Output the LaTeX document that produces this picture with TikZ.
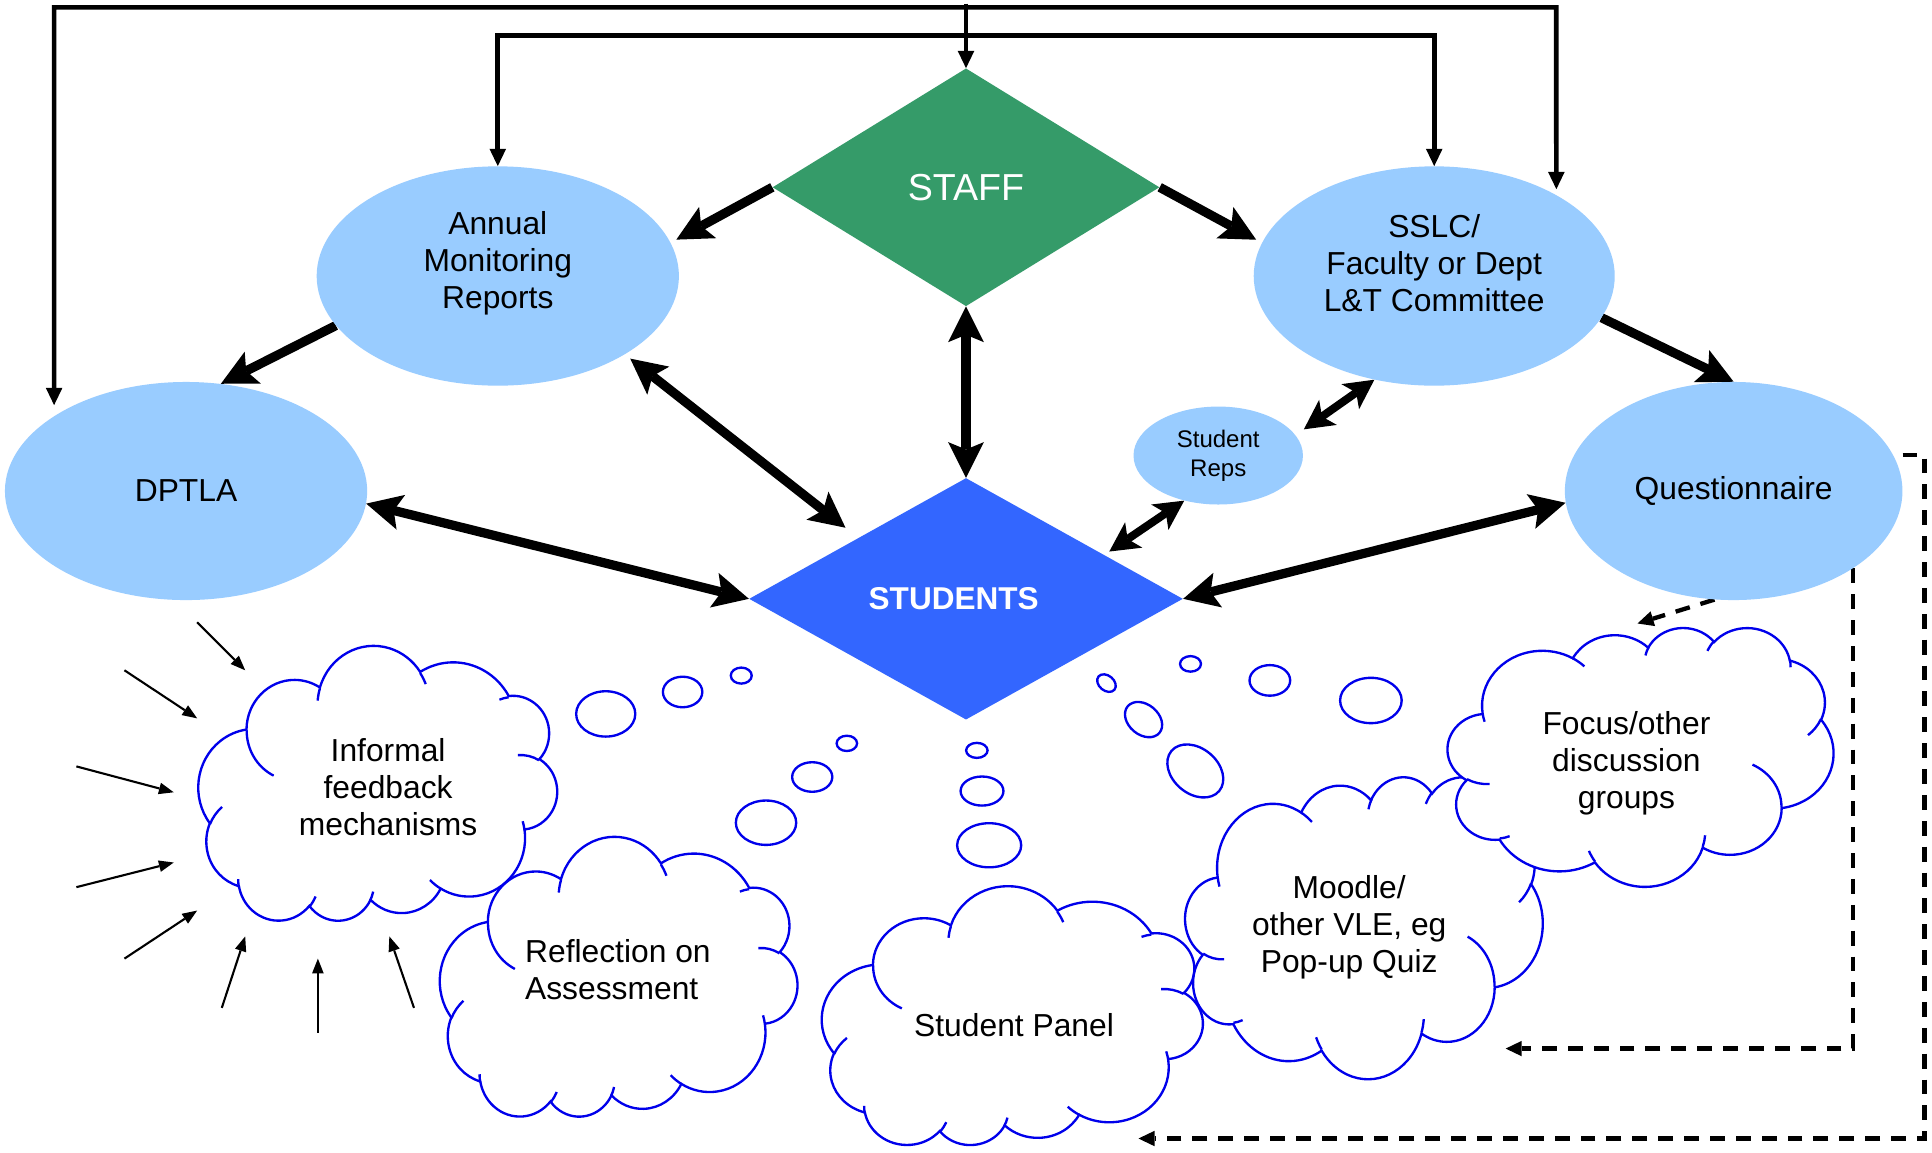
\documentclass[tikz,border=0pt]{standalone}
\usepackage{fontspec}
\setmainfont{Liberation Sans}
\usetikzlibrary{shapes.geometric,arrows.meta,calc,backgrounds}

\definecolor{skyfill}{RGB}{153,204,255}
\definecolor{staffgreen}{RGB}{53,155,105}
\definecolor{studentblue}{RGB}{51,102,255}
\definecolor{cloudblue}{RGB}{0,0,235}

% Cloud outline inside a 432 x 432 box (y pointing down): eleven puffs
\newcommand\cloudoutline{%
  (39.00,143.70)
  arc[start angle=-187.75, delta angle=128.11, x radius=67.53, y radius=91.90]
  arc[start angle=-152.02, delta angle=106.58, x radius=53.33, y radius=72.67]
  arc[start angle=-153.48, delta angle=116.15, x radius=43.65, y radius=59.45]
  arc[start angle=-139.69, delta angle=129.48, x radius=48.57, y radius=65.95]
  arc[start angle=-74.77, delta angle=97.98, x radius=53.33, y radius=72.73]
  arc[start angle=-37.53, delta angle=119.39, x radius=67.75, y radius=92.20]
  arc[start angle=0.46, delta angle=121.52, x radius=57.85, y radius=78.67]
  arc[start angle=16.84, delta angle=129.41, x radius=67.52, y radius=92.15]
  arc[start angle=58.99, delta angle=91.21, x radius=77.20, y radius=105.43]
  arc[start angle=-276.69, delta angle=139.79, x radius=43.60, y radius=59.18]
  arc[start angle=-239.64, delta angle=143.75, x radius=43.45, y radius=59.45]
  -- cycle}

% short inner strokes where the puffs meet
\newcommand\cloudhooks{%
  (46.93,261.77) arc[start angle=85.55, delta angle=34.81, x radius=43.45, y radius=59.45]
  (69.28,348.99) arc[start angle=68.24, delta angle=15.07, x radius=43.60, y radius=59.18]
  (164.78,390.90) arc[start angle=146.25, delta angle=12.22, x radius=67.52, y radius=92.15]
  (288.27,347.51) arc[start angle=4.74, delta angle=12.10, x radius=67.52, y radius=92.15]
  (341.29,229.54) arc[start angle=-64.03, delta angle=64.49, x radius=57.85, y radius=78.67]
  (417.98,153.54) arc[start angle=23.21, delta angle=26.42, x radius=53.33, y radius=72.73]
  (383.24,54.26) arc[start angle=-10.21, delta angle=11.03, x radius=48.57, y radius=65.95]
  (290.78,39.52) arc[start angle=-156.29, delta angle=16.60, x radius=48.57, y radius=65.95]
  (221.41,47.20) arc[start angle=-167.73, delta angle=14.25, x radius=43.65, y radius=59.45]
  (140.00,51.92) arc[start angle=-59.63, delta angle=13.91, x radius=67.53, y radius=91.90]
  (41.27,157.89) arc[start angle=163.19, delta angle=9.06, x radius=67.53, y radius=91.90]}

% #1 left, #2 top, #3 width, #4 height, #5 = 1 upright or -1 turned round
\newcommand\thoughtcloud[5]{%
  \begin{scope}[shift={({#1+#3/2},{#2+#4/2})}, xscale={#5*#3/432}, yscale={#5*#4/432}, shift={(-216,-216)}]
    \filldraw[cloudline, fill=white] \cloudoutline;
    \draw[cloudline] \cloudhooks;
  \end{scope}}

\begin{document}
\begin{tikzpicture}[x=1pt, y=-1pt,
  bodytext/.style={font=\fontsize{25.8pt}{30pt}\selectfont, align=center, inner sep=0pt},
  bubble/.style={ellipse, fill=skyfill, inner sep=0pt},
  bighead/.style={},
  heavy/.style={line width=7.5pt, -{Stealth[length=29pt, width=29pt, inset=6pt, line width=0pt]}},
  heavyboth/.style={line width=7.5pt, {Stealth[length=29pt, width=29pt, inset=6pt, line width=0pt]}-{Stealth[length=29pt, width=29pt, inset=6pt, line width=0pt]}},
  linkboth/.style={line width=6.5pt, {Stealth[length=24pt, width=25pt, inset=6pt, line width=0pt]}-{Stealth[length=24pt, width=25pt, inset=6pt, line width=0pt]}},
  rail/.style={line width=3.8pt, -{Triangle[length=14pt, width=13.5pt, line width=0pt]}},
  railboth/.style={line width=3.8pt, {Triangle[length=14pt, width=13.5pt, line width=0pt]}-{Triangle[length=14pt, width=13.5pt, line width=0pt]}},
  ray/.style={line width=1.7pt, -{Triangle[length=12pt, width=9.5pt, line width=0pt]}},
  dashlink/.style={line width=3.5pt, dash pattern=on 12pt off 9pt, -{Triangle[length=13pt, width=12.5pt, line width=0pt]}},
  cloudline/.style={draw=cloudblue, line width=1.9pt},
  puff/.style={draw=cloudblue, line width=1.9pt}]

\useasboundingbox (0,0) rectangle (1568,935);
\begin{scope}[on background layer]
  \fill[white] (0,0) rectangle (1568,935);
\end{scope}

% ---------- main shapes ----------
\node[diamond, fill=staffgreen, minimum width=314pt, minimum height=193pt, inner sep=0pt,
      text=white, font=\fontsize{30.5pt}{35pt}\selectfont] (staff) at (784,152) {STAFF};
\node[diamond, fill=studentblue, minimum width=352pt, minimum height=196pt, inner sep=0pt] (students) at (784,486) {};
\node[text=white, font=\bfseries\fontsize{25.6pt}{30pt}\selectfont, inner sep=0pt] (studentslbl) at ([xshift=-10pt]students.center) {STUDENTS};

\node[bubble, minimum width=294pt, minimum height=178pt] (annual) at (404,224) {};
\node[bodytext] (annualtxt) at ([yshift=10.5pt]annual.center) {Annual\\Monitoring\\Reports};
\node[bubble, minimum width=293pt, minimum height=178pt] (sslc) at (1164,224) {};
\node[bodytext] (sslctxt) at ([yshift=10.5pt]sslc.center) {SSLC/\\Faculty or Dept\\L\&T Committee};
\node[bubble, bodytext, minimum width=294pt, minimum height=177pt] (dptla) at (151,398.5) {DPTLA};
\node[bubble, bodytext, minimum width=274pt, minimum height=177pt] (quest) at (1407,398.5) {Questionnaire};
\node[bubble, align=center, font=\fontsize{19.5pt}{23.5pt}\selectfont, minimum width=137.5pt, minimum height=79.5pt] (reps) at (988.7,369.7) {Student\\Reps};

% ---------- clouds ----------
\thoughtcloud{161}{525}{291}{223}{-1}
\thoughtcloud{357}{680}{290}{227}{-1}
\thoughtcloud{667}{720}{309}{210}{-1}
\thoughtcloud{962}{630}{290}{245}{1}
\thoughtcloud{1175}{509}{313}{210}{1}

\node[bodytext] (informal) at (315,638.5) {Informal\\feedback\\mechanisms};
\node[bodytext, align=left, anchor=west] (reflection) at (426,787.3) {Reflection on\\Assessment};
\node[bodytext] (panel) at (823,832) {Student Panel};
\node[bodytext] (moodle) at (1095,752.6) {Moodle/\\other VLE, eg\\Pop-up Quiz};
\node[bodytext] (focus) at (1320,619.6) {Focus/other\\discussion\\groups};

% ---------- thought bubbles ----------
\draw[puff] (601.6,548.3) ellipse [x radius=8.5, y radius=6.5];
\draw[puff] (554,561.6) ellipse [x radius=16, y radius=12.4];
\draw[puff] (491.6,579.4) ellipse [x radius=24, y radius=18.4];
\draw[puff] (687.3,603.3) ellipse [x radius=8.3, y radius=6.2];
\draw[puff] (659.2,630.6) ellipse [x radius=16.3, y radius=12];
\draw[puff] (621.7,667.7) ellipse [x radius=24.5, y radius=18];
\draw[puff] (792.8,609) ellipse [x radius=8.7, y radius=6.1];
\draw[puff] (797,642) ellipse [x radius=17.4, y radius=11.8];
\draw[puff] (802.8,686) ellipse [x radius=26, y radius=17.9];
\draw[puff, rotate around={-40:(898,554.4)}] (898,554.4) ellipse [x radius=8.4, y radius=6.1];
\draw[puff, rotate around={-40:(928.1,584)}] (928.1,584) ellipse [x radius=16.8, y radius=12.25];
\draw[puff, rotate around={-40:(970.1,625.7)}] (970.1,625.7) ellipse [x radius=25.3, y radius=18.4];
\draw[puff] (966.2,538.8) ellipse [x radius=8.5, y radius=6.3];
\draw[puff] (1030.6,552.2) ellipse [x radius=16.5, y radius=12.4];
\draw[puff] (1112.6,568.5) ellipse [x radius=25, y radius=18.4];

% ---------- arrows converging on the informal feedback cloud ----------
\foreach \sx/\sy/\ex/\ey [count=\i] in {160/505/199/544, 101/544/160/583, 62/622/141/643,
    62/720/141/700, 101/778/160/739, 180/818/199/760, 258/838/258/778, 336/818/316/760} {
  \coordinate (raystart\i) at (\sx,\sy);
  \coordinate (rayend\i) at (\ex,\ey);
  \draw[ray] (raystart\i) -- (rayend\i);
}

% ---------- connectors ----------
\coordinate (hub) at (784,3);
\coordinate (innerNE) at (1164,28.6);
\coordinate (outerNE) at (1263,6);
\coordinate (focusTip) at (1329,506);
\coordinate (panelCorner) at (1562,924);
\coordinate (panelTip) at (924,924);
\coordinate (moodleTip) at (1222,851);

\begin{scope}[on background layer]
  \draw[rail] (hub) -- (staff.north);
  \draw[railboth] (annual.north) |- (innerNE) -- (sslc.north);
  \draw[railboth] ([shift={(-3,-7)}]dptla.north west) |- (outerNE) -- ([shift={(-4.6,-7.4)}]sslc.north east);

  \draw[heavy] (staff.west) -- ([xshift=6pt]annual.12);
  \draw[heavy] (staff.east) -- ([xshift=-6pt]sslc.168);
  \draw[heavy] (annual.197) -- (dptla.72);
  \draw[heavy] (sslc.-14) -- (quest.north);
  \draw[heavyboth] ([shift={(5,3)}]annual.-32) -- ($(students.west)!0.445!(students.north)+(0,-14)$);
  \draw[heavyboth] (dptla.-4) -- (students.west);
  \draw[heavyboth] (quest.184) -- (students.east);
  \draw[heavyboth] (staff.south) -- (students.north);
  \draw[linkboth] (sslc.-120) -- ([shift={(8.5,-2.6)}]reps.17);
  \draw[linkboth] (reps.-127) -- ($(students.north)!0.66!(students.east)+(0,-5)$);

  \draw[dashlink] (quest.-100) -- (focusTip);
  \draw[dashlink] ([yshift=29.5pt]quest.east) -| (panelCorner) -- (panelTip);
  \draw[dashlink] (quest.-33) |- (moodleTip);
\end{scope}

\end{tikzpicture}
\end{document}
